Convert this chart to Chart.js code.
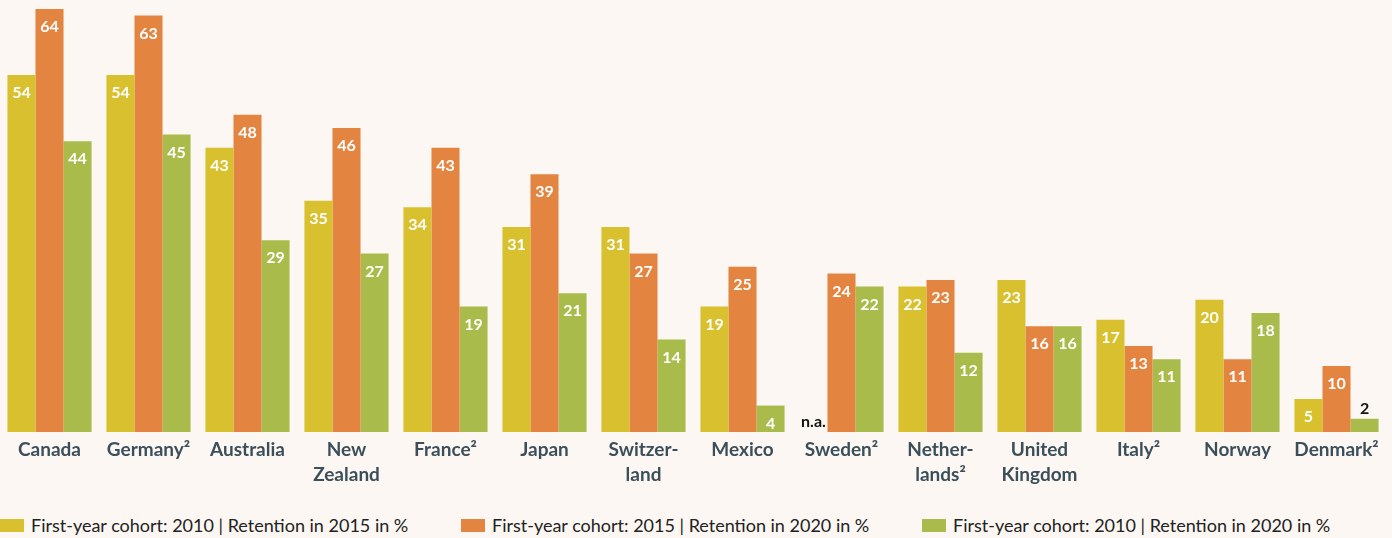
<!DOCTYPE html>
<html>
<head>
<meta charset="utf-8">
<script src="https://cdn.jsdelivr.net/npm/chart.js@4.4.0/dist/chart.umd.min.js"></script>
<style>
  html, body { margin: 0; padding: 0; background: #fcf7f3; }
  #wrap { position: relative; width: 1392px; height: 538px; }
  #box { position: absolute; left: 0; top: 0; width: 1392px; height: 500px; }
  #legend { position: absolute; left: 0; top: 514px; display: flex; font-family: Lato, sans-serif; font-size: 18px; color: #222; }
  #legend .item { width: 461px; display: flex; align-items: center; }
  #legend .sw { width: 24px; height: 13px; margin-right: 7px; }
</style>
</head>
<body>
<div id="wrap">
  <div id="box"><canvas id="chart"></canvas></div>
  <div id="legend"></div>
</div>
<script>
const categories = [
  'Canada', 'Germany²', 'Australia', ['New', 'Zealand'], 'France²', 'Japan',
  ['Switzer-', 'land'], 'Mexico', 'Sweden²', ['Nether-', 'lands²'],
  ['United', 'Kingdom'], 'Italy²', 'Norway', 'Denmark²'
]
const seriesNames = [
  'First-year cohort: 2010 | Retention in 2015 in %',
  'First-year cohort: 2015 | Retention in 2020 in %',
  'First-year cohort: 2010 | Retention in 2020 in %'
]
const retention2010to2015 = [54, 54, 43, 35, 34, 31, 31, 19, null, 22, 23, 17, 20, 5]
const retention2015to2020 = [64, 63, 48, 46, 43, 39, 27, 25, 24, 23, 16, 13, 11, 10]
const retention2010to2020 = [44, 45, 29, 27, 19, 21, 14, 4, 22, 12, 16, 11, 18, 2]
const colors = ['#d8c02f', '#e38540', '#a9bb4a']

const valueLabels = {
  id: 'valueLabels',
  afterDatasetsDraw (chart) {
    const ctx = chart.ctx
    ctx.save()
    ctx.font = 'bold 16px Lato, sans-serif'
    ctx.textAlign = 'center'
    ctx.textBaseline = 'middle'
    chart.data.datasets.forEach((ds, di) => {
      const meta = chart.getDatasetMeta(di)
      meta.data.forEach((bar, i) => {
        const v = ds.data[i]
        if (v === null) {
          // no value: write n.a. in the empty slot
          const next = chart.getDatasetMeta(di + 1).data[i]
          ctx.fillStyle = '#111'
          ctx.fillText('n.a.', next.x - next.width, chart.chartArea.bottom - 10)
          return
        }
        if (v < 3) {
          ctx.fillStyle = '#111'
          ctx.fillText(v, bar.x, bar.y - 10)
        } else {
          ctx.fillStyle = '#fff'
          ctx.fillText(v, bar.x, bar.y + 18)
        }
      })
    })
    ctx.restore()
  }
}

const ctx = document.getElementById('chart').getContext('2d')
const chart = new Chart(ctx, {
  type: 'bar',
  data: {
    labels: categories,
    datasets: [retention2010to2015, retention2015to2020, retention2010to2020].map((d, i) => ({
      label: seriesNames[i],
      data: d,
      backgroundColor: colors[i],
      borderWidth: 0,
      barPercentage: 1,
      categoryPercentage: 0.85
    }))
  },
  options: {
    responsive: true,
    maintainAspectRatio: false,
    animation: false,
    layout: { padding: { top: 9, left: 0, right: 6, bottom: 0 } },
    plugins: { legend: { display: false }, tooltip: { enabled: false } },
    scales: {
      y: { display: false, min: 0, max: 64 },
      x: {
        grid: { display: false, drawTicks: false },
        border: { display: false },
        ticks: {
          color: '#3b4f5a',
          font: { family: 'Lato, sans-serif', size: 19, weight: 'bold', lineHeight: 1.3 },
          padding: 6,
          maxRotation: 0,
          autoSkip: false
        },
        afterFit (scale) { scale.height = 68 }
      }
    }
  },
  plugins: [valueLabels]
})

const legend = document.getElementById('legend')
seriesNames.forEach((name, i) => {
  const item = document.createElement('div')
  item.className = 'item'
  item.innerHTML = '<span class="sw" style="background:' + colors[i] + '"></span><span>' + name + '</span>'
  legend.appendChild(item)
})
</script>
</body>
</html>
